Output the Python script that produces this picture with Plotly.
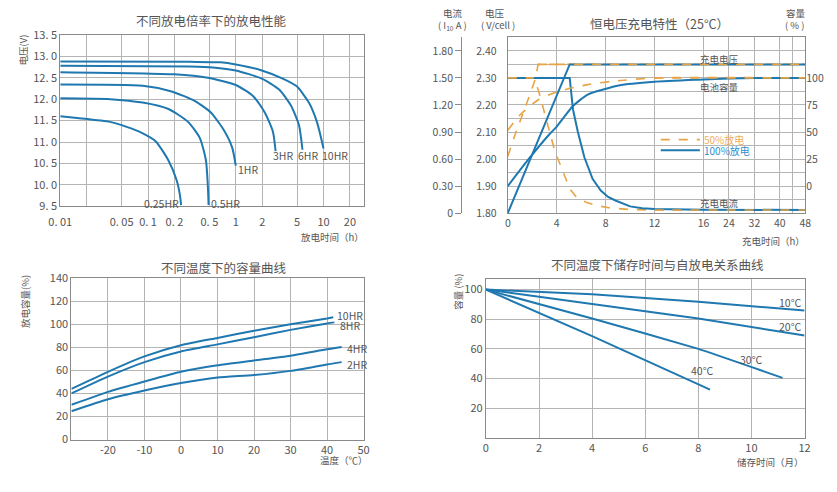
import numpy as np
import plotly.graph_objects as go

W, H = 837, 492
BLUE = '#1f78b0'
ORANGE = '#e8a444'
GRID = '#b4b4b4'
BORDER = '#8a8a8a'
TXT = '#555555'
FONT = 'Noto Sans CJK SC'

# ---- panel 1: discharge curves at different rates (log time axis)
rate_labels = ['10HR', '6HR', '3HR', '1HR', '0.5HR', '0.25HR']
t_10hr = [0.01, 0.3, 0.67, 1.0, 1.98, 3.43, 4.95, 6.8, 8.4, 10.0]
v_10hr = [12.88, 12.87, 12.86, 12.81, 12.67, 12.48, 12.30, 11.92, 11.47, 10.85]
t_6hr = [0.01, 0.3, 0.55, 1.0, 1.98, 3.14, 4.25, 5.25, 5.75]
v_6hr = [12.78, 12.76, 12.74, 12.67, 12.48, 12.22, 11.85, 11.39, 10.82]
t_3hr = [0.01, 0.2, 0.48, 1.0, 1.58, 2.14, 2.65, 2.84]
v_3hr = [12.63, 12.58, 12.50, 12.33, 12.07, 11.69, 11.24, 10.79]
t_1hr = [0.01, 0.087, 0.186, 0.34, 0.52, 0.73, 0.91, 1.0]
v_1hr = [12.34, 12.31, 12.18, 11.96, 11.69, 11.28, 10.87, 10.45]
t_05hr = [0.01, 0.037, 0.087, 0.171, 0.286, 0.39, 0.457, 0.479, 0.49]
v_05hr = [12.02, 12.0, 11.92, 11.77, 11.47, 11.09, 10.57, 10.04, 9.53]
t_025hr = [0.01, 0.0156, 0.037, 0.056, 0.086, 0.122, 0.171, 0.212, 0.232, 0.238]
v_025hr = [11.60, 11.56, 11.47, 11.36, 11.21, 11.02, 10.57, 10.11, 9.74, 9.53]
p1_xticks = [0.01, 0.02, 0.05, 0.1, 0.2, 0.5, 1, 2, 5, 10, 20]
p1_xtext = ['0. 01', '', '0. 05', '0. 1', '0. 2', '0. 5', '1', '2', '5', '10', '20']
p1_yticks = [9.5, 10.0, 10.5, 11.0, 11.5, 12.0, 12.5, 13.0, 13.5]
p1_ytext = ['9. 5', '10. 0', '10. 5', '11. 0', '11. 5', '12. 0', '12. 5', '13. 0', '13. 5']

# ---- panel 2: constant voltage charging (25°C)
t_volt_100 = [0, 5.06, 48]
v_volt_100 = [1.80, 2.35, 2.35]
t_curr_100 = [0, 5.06, 5.33, 5.73, 6.26, 6.93, 7.6, 8.2, 8.8, 10, 11, 12, 16, 48]
i_curr_100 = [1.50, 1.50, 1.15, 0.90, 0.62, 0.38, 0.25, 0.18, 0.14, 0.075, 0.055, 0.046, 0.038, 0.035]
t_cap_100 = [0, 1.6, 3.33, 4.0, 5.33, 6.53, 7.87, 9.07, 12, 16, 24, 32, 48]
c_cap_100 = [0, 23.5, 47, 55, 74, 84.6, 89.5, 93, 96.4, 98.5, 99.5, 100, 100]
t_volt_50 = [0, 0.67, 1.47, 2.26, 2.48, 48]
v_volt_50 = [2.01, 2.10, 2.196, 2.297, 2.35, 2.35]
t_curr_50 = [0, 2.13, 2.53, 2.93, 3.33, 3.86, 4.4, 5.06, 5.6, 6.4, 7.2, 8.26, 10, 12, 48]
i_curr_50 = [1.50, 1.50, 1.35, 1.15, 0.94, 0.68, 0.50, 0.27, 0.18, 0.12, 0.085, 0.06, 0.04, 0.035, 0.035]
t_cap_50 = [0, 0.93, 2.53, 4.13, 6.53, 8.66, 12, 48]
c_cap_50 = [51.5, 65, 80, 87.5, 93.8, 97, 100, 100]
p2_xticks = [0, 4, 8, 12, 16, 24, 32, 40, 44, 48]
p2_xtext = ['0', '4', '8', '12', '16', '24', '32', '40', '', '48']
p2_vgrid = [1.80, 1.85, 1.90, 1.95, 2.00, 2.05, 2.10, 2.15, 2.20, 2.25, 2.30, 2.35, 2.40, 2.45]
p2_iticks = [0, 0.30, 0.60, 0.90, 1.20, 1.50, 1.80]
p2_cticks = [0, 25, 50, 75, 100]
legend_names = ['50%放电', '100%放电']

# ---- panel 3: capacity vs temperature
temp = [-30, -20, -10, 0, 10, 20, 30, 40]
cap_10hr = [44, 58.8, 72.2, 81.8, 88.2, 94.4, 100, 105]
cap_8hr = [40, 54.6, 67.2, 76.4, 82.6, 88.8, 95.2, 100.8]
cap_4hr = [30.2, 41.4, 50.4, 58.8, 64.4, 68.6, 72.8, 78.4]
cap_2hr = [24.6, 35, 42.6, 49, 53.8, 56, 59.6, 65.2]
end_temp = [41.7, 42.0, 44.0, 44.0]
end_cap = [106.1, 101.7, 80.4, 67.2]
temp_labels = ['10HR', '8HR', '4HR', '2HR']

# ---- panel 4: storage time vs self discharge
m_10c = [0, 4, 8, 12]
r_10c = [100, 96.8, 91.8, 85.9]
m_20c = [0, 4, 8, 12]
r_20c = [100, 90.3, 80.5, 69]
m_30c = [0, 4, 8, 11.17]
r_30c = [100, 80.5, 60, 40.5]
m_40c = [0, 4, 8.44]
r_40c = [100, 68.6, 32.5]
store_labels = ['10°C', '20°C', '30°C', '40°C']


def fx(px):
    return px / W


def fy(py):
    return 1 - py / H


def tx(t):
    # time axis of the charging chart is squeezed after 16 h
    t = np.asarray(t, dtype=float)
    return np.where(t <= 16, t, 16 + (t - 16) * 0.26)


fig = go.Figure()
line = dict(color=BLUE, width=2)
dash = dict(color=ORANGE, width=1.6, dash='dash')

# panel 1 traces
for tt, vv in [(t_10hr, v_10hr), (t_6hr, v_6hr), (t_3hr, v_3hr),
               (t_1hr, v_1hr), (t_05hr, v_05hr), (t_025hr, v_025hr)]:
    fig.add_trace(go.Scatter(x=tt, y=vv, mode='lines', line=dict(shape='spline', smoothing=0.6, **line),
                             xaxis='x', yaxis='y'))

# panel 2 traces
fig.add_trace(go.Scatter(x=tx(t_volt_50), y=v_volt_50, mode='lines', xaxis='x2', yaxis='y2', line=dash))
fig.add_trace(go.Scatter(x=tx(t_curr_50), y=i_curr_50, mode='lines', xaxis='x2', yaxis='y3', line=dash))
fig.add_trace(go.Scatter(x=tx(t_cap_50), y=c_cap_50, mode='lines', xaxis='x2', yaxis='y4',
                         line=dict(shape='spline', smoothing=0.6, **dash)))
fig.add_trace(go.Scatter(x=tx(t_volt_100), y=v_volt_100, mode='lines', xaxis='x2', yaxis='y2', line=line))
fig.add_trace(go.Scatter(x=tx(t_curr_100), y=i_curr_100, mode='lines', xaxis='x2', yaxis='y3', line=line))
fig.add_trace(go.Scatter(x=tx(t_cap_100), y=c_cap_100, mode='lines', xaxis='x2', yaxis='y4',
                         line=dict(shape='spline', smoothing=0.6, **line)))
# dashed orange drawn again on top of the shared flat segments
fig.add_trace(go.Scatter(x=tx(t_volt_50[-2:]), y=v_volt_50[-2:], mode='lines', xaxis='x2', yaxis='y2', line=dash))
fig.add_trace(go.Scatter(x=tx(t_cap_50[-2:]), y=c_cap_50[-2:], mode='lines', xaxis='x2', yaxis='y4', line=dash))
fig.add_trace(go.Scatter(x=tx(t_curr_50[-2:]), y=i_curr_50[-2:], mode='lines', xaxis='x2', yaxis='y3', line=dash))
fig.add_trace(go.Scatter(x=tx(t_curr_50[:2]), y=i_curr_50[:2], mode='lines', xaxis='x2', yaxis='y3', line=dash))

# panel 3 traces
for cc, et, ec in zip([cap_10hr, cap_8hr, cap_4hr, cap_2hr], end_temp, end_cap):
    fig.add_trace(go.Scatter(x=temp + [et], y=cc + [ec], mode='lines',
                             line=dict(shape='spline', smoothing=0.6, **line),
                             xaxis='x3', yaxis='y5'))

# panel 4 traces
for mm, rr in [(m_10c, r_10c), (m_20c, r_20c), (m_30c, r_30c), (m_40c, r_40c)]:
    fig.add_trace(go.Scatter(x=mm, y=rr, mode='lines', line=dict(shape='spline', smoothing=0.3, **line),
                             xaxis='x4', yaxis='y6'))

fig.update_traces(hoverinfo='skip')

tick_font = dict(family=FONT, size=11, color=TXT)
small_font = dict(family=FONT, size=10.5, color=TXT)
box = dict(showline=True, linecolor=BORDER, linewidth=1, mirror=True, showgrid=True,
           gridcolor=GRID, gridwidth=1, zeroline=False, ticks='', tickfont=tick_font)

fig.update_layout(
    width=W, height=H, margin=dict(l=0, r=0, t=0, b=0),
    paper_bgcolor='white', plot_bgcolor='white', showlegend=False,
    font=dict(family=FONT, color=TXT, size=11),
    xaxis=dict(type='log', range=[-2, 1.456], domain=[fx(49.3), fx(359.3)], anchor='y',
               tickvals=p1_xticks, ticktext=p1_xtext, ticklabelstandoff=5, **box),
    yaxis=dict(range=[9.5, 13.5], domain=[fy(204), fy(26.7)], anchor='x',
               tickvals=p1_yticks, ticktext=p1_ytext, **box),
    xaxis2=dict(range=[0, float(tx(48))], domain=[fx(506.7), fx(810.7)], anchor='y2',
                tickvals=tx(p2_xticks), ticktext=p2_xtext, **{**box, 'tickfont': small_font}),
    yaxis2=dict(range=[1.80, 2.45], domain=[fy(211), fy(29.3)], anchor='x2',
                tickvals=p2_vgrid,
                ticktext=['%.2f' % v if i % 2 == 0 and v < 2.42 else '' for i, v in enumerate(p2_vgrid)],
                ticklabelstandoff=8, **{**box, 'tickfont': small_font}),
    yaxis3=dict(range=[0, 1.95], overlaying='y2', anchor='free', position=fx(459), side='left',
                tickvals=p2_iticks, ticktext=['0'] + ['%.2f' % v for v in p2_iticks[1:]],
                showline=True, linecolor=BORDER, ticks='outside', ticklen=6, tickcolor=BORDER,
                showgrid=False, zeroline=False, tickfont=small_font),
    yaxis4=dict(range=[-25, 137.5], overlaying='y2', anchor='x2', side='right',
                tickvals=p2_cticks, showgrid=False, zeroline=False, showline=False, tickfont=small_font),
    xaxis3=dict(range=[-30, 50], domain=[fx(60.7), fx(359.3)], anchor='y5',
                tickvals=[-20, -10, 0, 10, 20, 30, 40, 50],
                ticktext=['-20', '-10', '0', '10', '20', '30', '40', '50'], **box),
    yaxis5=dict(range=[0, 140], domain=[fy(445), fy(278.3)], anchor='x3', dtick=20, **box),
    xaxis4=dict(range=[0, 12], domain=[fx(484.3), fx(810)], anchor='y6', dtick=2, **box),
    yaxis6=dict(range=[0, 107], domain=[fy(443.3), fy(279.3)], anchor='x4',
                tickvals=[20, 40, 60, 80, 100], **box),
)

ann = []


def text(x, y, s, size=11, xanchor='center', xref='paper', yref='paper', angle=0, color=TXT):
    ann.append(dict(x=x, y=y, text=s, xref=xref, yref=yref, showarrow=False, xanchor=xanchor,
                    yanchor='middle', textangle=angle, font=dict(family=FONT, size=size, color=color)))


# titles
text(fx(204), fy(12), '不同放电倍率下的放电性能', size=12.5)
text(fx(662), fy(15), '恒电压充电特性（25°C）', size=12.5)
text(fx(217), fy(267), '不同温度下的容量曲线', size=12.5)
text(fx(660), fy(264), '不同温度下储存时间与自放电关系曲线', size=12.5)

# axis titles
text(fx(11), fy(42), '电压(V)', size=9.5, angle=-90)
text(fx(362), fy(236), '放电时间（h）', size=9.5, xanchor='right')
text(fx(13), fy(302), '放电容量(%)', size=9.5, angle=-90)
text(fx(366), fy(466), '温度（℃）', size=9.5, xanchor='right')
text(fx(455), fy(292), '容量 (%)', size=9.5, angle=-90)
text(fx(811), fy(468), '储存时间（月）', size=9.5, xanchor='right')
text(fx(812), fy(240), '充电时间（h）', size=9.5, xanchor='right')
text(fx(451), fy(4), '电流', size=9.5)
text(fx(450), fy(17), '( I<sub>10</sub> A )', size=9.5)
text(fx(494), fy(4), '电压', size=9.5)
text(fx(497), fy(17), '( V/cell )', size=9.5)
text(fx(801), fy(4), '容量', size=9.5)
text(fx(800), fy(17), '( % )', size=9.5)

# curve labels panel 1
text(np.log10(0.24), 9.56, rate_labels[5], xanchor='right', xref='x', yref='y', size=10.5)
text(np.log10(0.5), 9.56, rate_labels[4], xanchor='left', xref='x', yref='y', size=10.5)
text(np.log10(1.0), 10.36, rate_labels[3], xanchor='left', xref='x', yref='y', size=10.5)
for lab, lx in zip(rate_labels[:3][::-1], [0.405, 0.683, 0.963]):
    text(lx, 10.69, lab, xanchor='left', xref='x', yref='y', size=10.5)

# labels panel 2
text(17.3, 2.369, '充电电压', xref='x2', yref='y2', size=9.5)
text(17.3, 2.268, '电池容量', xref='x2', yref='y2', size=9.5)
text(17.3, 1.839, '充电电流', xref='x2', yref='y2', size=9.5)

# legend of panel 2 (samples + coloured names)
shapes = [
    dict(type='line', xref='paper', yref='paper', x0=fx(663), x1=fx(703), y0=fy(135), y1=fy(135),
         line=dict(color=ORANGE, width=1.6, dash='dash')),
    dict(type='line', xref='paper', yref='paper', x0=fx(663), x1=fx(703), y0=fy(146), y1=fy(146),
         line=dict(color=BLUE, width=2.2)),
]
text(fx(705), fy(135), legend_names[0], size=10, xanchor='left', color='#f0ae55')
text(fx(705), fy(146), legend_names[1], size=10, xanchor='left', color='#2f8fcc')

# labels panel 3
for lab, lx, ly in zip(temp_labels, [42.15, 42.9, 44.8, 44.8], [107.7, 99.3, 79.2, 64.9]):
    text(lx, ly, lab, xanchor='left', xref='x3', yref='y5', size=10.5)

# labels panel 4
for lab, lx, ly in zip(store_labels, [10.96, 10.96, 9.48, 7.64], [91.3, 75.4, 52.8, 45.7]):
    text(lx, ly, lab, xanchor='left', xref='x4', yref='y6', size=10.5)

fig.update_layout(annotations=ann, shapes=shapes)

fig.write_html("out.html", config={'displayModeBar': False},
               post_script="document.body.style.margin='0px';")
